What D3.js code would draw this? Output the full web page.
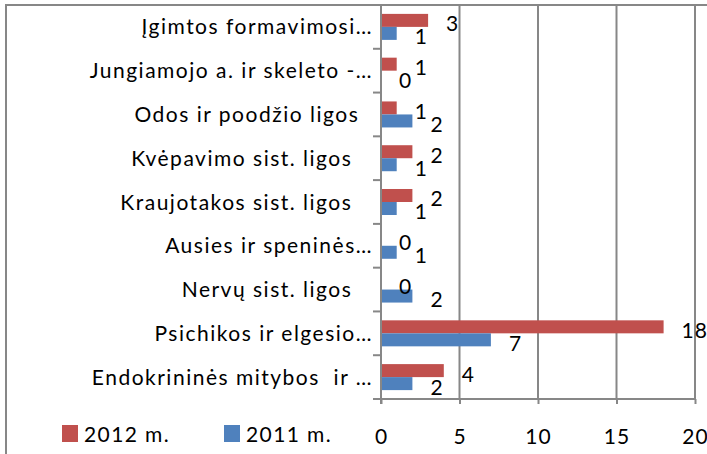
<!DOCTYPE html>
<html>
<head>
<meta charset="utf-8">
<script src="https://cdn.jsdelivr.net/npm/d3@7/dist/d3.min.js"></script>
<style>
  html, body { margin: 0; padding: 0; background: #fff; }
  svg { display: block; }
  text { font-family: Lato, "Open Sans", sans-serif; fill: #000; white-space: pre; }
</style>
</head>
<body>
<script>
// Disease groups, listed top to bottom
const categories = [
  "Įgimtos formavimosi…",
  "Jungiamojo a. ir skeleto -…",
  "Odos ir poodžio ligos  ",
  "Kvėpavimo sist. ligos   ",
  "Kraujotakos sist. ligos   ",
  "Ausies ir speninės…",
  "Nervų sist. ligos   ",
  "Psichikos ir elgesio…",
  "Endokrininės mitybos  ir …"
];
const values2012 = [3, 1, 1, 2, 2, 0, 0, 18, 4];
const values2011 = [1, 0, 2, 1, 1, 1, 2, 7, 2];
const seriesNames = ["2012 m.", "2011 m."];
const seriesColors = ["#C0504D", "#4F81BD"];
const xTicks = [0, 5, 10, 15, 20];

const W = 707, H = 454;
const grid = "#878787";
const plot = { left: 381, right: 695, top: 5, bottom: 399 };

const svg = d3.select("body").append("svg").attr("width", W).attr("height", H);

// chart frame (top and left edges)
svg.append("line").attr("x1", 5).attr("x2", W).attr("y1", 5).attr("y2", 5)
  .attr("stroke", grid).attr("stroke-width", 2);
svg.append("line").attr("x1", 6).attr("x2", 6).attr("y1", 4).attr("y2", H)
  .attr("stroke", grid).attr("stroke-width", 2);

const x = d3.scaleLinear().domain([0, 20]).range([plot.left, plot.right]);
const y = d3.scaleBand().domain(categories).range([plot.top, plot.bottom]).padding(0);
const gapFrac = 0.203;
const ySeries = d3.scaleBand().domain(seriesNames)
  .range([y.bandwidth() * gapFrac, y.bandwidth() * (1 - gapFrac)]).padding(0);

// vertical gridlines
svg.append("g").selectAll("line").data(xTicks.slice(1)).join("line")
  .attr("x1", d => x(d)).attr("x2", d => x(d))
  .attr("y1", plot.top).attr("y2", plot.bottom)
  .attr("stroke", grid).attr("stroke-width", 2);

// bars
const rows = categories.map((c, i) => ({ c, vals: [values2012[i], values2011[i]] }));
const rowG = svg.append("g").selectAll("g").data(rows).join("g")
  .attr("transform", d => `translate(0,${y(d.c)})`);

rowG.selectAll("rect").data(d => d.vals.map((v, k) => ({ v, k }))).join("rect")
  .attr("x", x(0))
  .attr("y", d => ySeries(seriesNames[d.k]))
  .attr("width", d => x(d.v) - x(0))
  .attr("height", ySeries.bandwidth())
  .attr("fill", d => seriesColors[d.k]);

// value labels
rowG.selectAll("text.val").data(d => d.vals.map((v, k) => ({ v, k }))).join("text")
  .attr("class", "val")
  .attr("x", d => x(d.v) + 18)
  .attr("y", d => ySeries(seriesNames[d.k]) + ySeries.bandwidth() / 2 + 11)
  .attr("font-size", 21)
  .attr("letter-spacing", 1)
  .text(d => d.v);

// bottom axis
const xAxis = d3.axisBottom(x).tickValues(xTicks).tickSize(5).tickPadding(25)
  .tickFormat(d3.format("d"));
const gx = svg.append("g").attr("transform", `translate(0,${plot.bottom})`).call(xAxis);
gx.select(".domain").attr("stroke", grid).attr("stroke-width", 2)
  .attr("d", `M${plot.left - 1},0H${plot.right + 1}`);
gx.selectAll(".tick line").attr("stroke", grid).attr("stroke-width", 2);
gx.selectAll(".tick text").attr("font-size", 21).attr("font-family", "Lato")
  .attr("letter-spacing", 1).attr("fill", "#000").attr("dy", "0.71em");

// left category axis
const yAxis = d3.axisLeft(y).tickSize(0).tickPadding(8);
const gy = svg.append("g").attr("transform", `translate(${plot.left},0)`).call(yAxis);
gy.select(".domain").remove();
gy.selectAll(".tick text").attr("font-size", 21).attr("font-family", "Lato")
  .attr("letter-spacing", 1.5).attr("fill", "#000").attr("dy", "0.36em");
// left axis line and band separators
svg.append("line").attr("x1", plot.left).attr("x2", plot.left)
  .attr("y1", plot.top).attr("y2", plot.bottom + 5)
  .attr("stroke", grid).attr("stroke-width", 2);
const bounds = categories.map(c => y(c)).concat([plot.bottom]).slice(1);
svg.append("g").selectAll("line").data(bounds).join("line")
  .attr("x1", plot.left - 8).attr("x2", plot.left)
  .attr("y1", d => d).attr("y2", d => d)
  .attr("stroke", grid).attr("stroke-width", 2);

// legend
const legend = svg.append("g");
const legendX = [62, 224];
seriesNames.forEach((name, k) => {
  legend.append("rect").attr("x", legendX[k]).attr("y", 425)
    .attr("width", 16).attr("height", 17).attr("fill", seriesColors[k]);
  legend.append("text").attr("x", legendX[k] + 22).attr("y", 442)
    .attr("font-size", 21).attr("letter-spacing", 1.4).text(name);
});
</script>
</body>
</html>
